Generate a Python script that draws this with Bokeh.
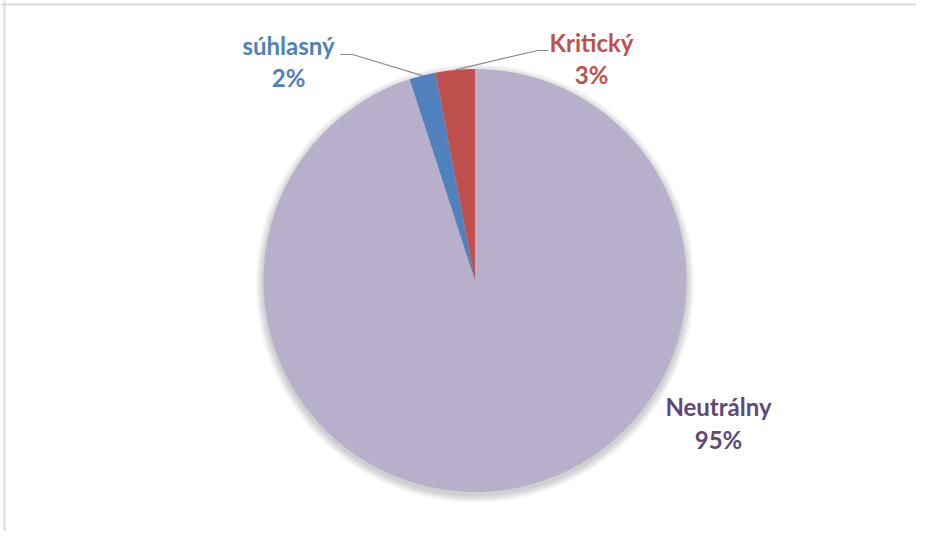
import math
from bokeh.plotting import figure
from bokeh.models import Range1d, Span
from bokeh.core.properties import value
from bokeh.embed import file_html
from bokeh.resources import INLINE

# Data
categories = ["Neutrálny", "súhlasný", "Kritický"]
shares = [95, 2, 3]
pct_labels = ["95%", "2%", "3%"]
colors = ["#B8AFCA", "#4F81BD", "#C0504D"]
label_colors = ["#5F497A", "#4F81BD", "#C0504D"]

W, H = 916, 531
p = figure(width=W, height=H, output_backend="svg", toolbar_location=None,
           x_range=Range1d(0, W), y_range=Range1d(0, H),
           min_border=0, match_aspect=False)
p.axis.visible = False
p.grid.visible = False
p.outline_line_color = None
p.background_fill_color = "white"
p.border_fill_color = "white"

# frame lines (top and left)
p.add_layout(Span(location=H - 4, dimension="width", line_color="#D9D9D9", line_width=2))
p.add_layout(Span(location=4, dimension="height", line_color="#D9D9D9", line_width=2))

cx, cy, r = 474.5, 251.0, 211.5

# soft shadow
for i in range(8):
    p.circle(x=cx, y=cy - 3, radius=r + 1 + i, fill_color="#000000",
             fill_alpha=0.025, line_color=None)

total = sum(shares)
start = 0.0
mids = []
for cat, s, col in zip(categories, shares, colors):
    a0 = math.pi / 2 - 2 * math.pi * start / total
    a1 = math.pi / 2 - 2 * math.pi * (start + s) / total
    p.wedge(x=cx, y=cy, radius=r, start_angle=a0, end_angle=a1, direction="clock",
            fill_color=col, line_color=None)
    mids.append(math.pi / 2 - 2 * math.pi * (start + s / 2) / total)
    start += s

font = value("Lato")
# label layout (centre x, name y, pct y) in plot pixels
label_pos = {
    "Neutrálny": (718, 125, 92),
    "súhlasný": (288, 486, 454),
    "Kritický": (591, 489, 457),
}
elbows = {
    "súhlasný": ((340, 477), (352, 477)),
    "Kritický": ((548, 481), (537, 481)),
}
for cat, pct, lc, m in zip(categories, pct_labels, label_colors, mids):
    lx, ny, py = label_pos[cat]
    p.text(x=[lx], y=[ny], text=[cat], text_align="center", text_baseline="middle",
           text_font=font, text_font_style="bold", text_font_size="24px", text_color=lc)
    p.text(x=[lx], y=[py], text=[pct], text_align="center", text_baseline="middle",
           text_font=font, text_font_style="bold", text_font_size="24px", text_color=lc)
    if cat in elbows:
        (ex0, ey0), (ex1, ey1) = elbows[cat]
        rx = cx + r * math.cos(m)
        ry = cy + r * math.sin(m)
        p.line(x=[ex0, ex1, rx], y=[ey0, ey1, ry], line_color="#8C8C8C", line_width=1.2)

open("out.html", "w").write(file_html(p, INLINE))
